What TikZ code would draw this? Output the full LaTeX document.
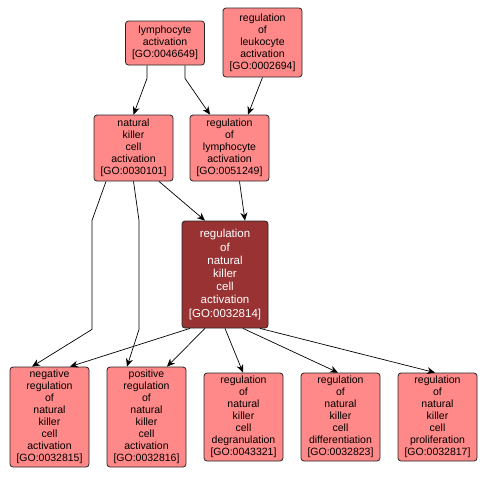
\documentclass[tikz,border=0pt]{standalone}
\usepackage{fontspec}
\setmainfont{Liberation Sans}
\usepackage{xcolor}
\usetikzlibrary{positioning,calc,arrows.meta}

\definecolor{golight}{RGB}{255,136,136}
\definecolor{godark}{RGB}{153,51,51}

\begin{document}
\begin{tikzpicture}[x=1pt, y=-1pt,
  term/.style={draw=black!85, fill=golight, rounded corners=3pt, inner sep=0pt,
    align=center, font=\fontsize{10.5}{12}\selectfont, line width=0.8pt},
  focus/.style={term, fill=godark, text=white, font=\fontsize{11.5}{13.2}\selectfont},
  isa/.style={line width=0.7pt, -{Stealth[length=8pt, width=7pt]}}]
  \useasboundingbox (0,0) rectangle (486,480);

  % Top row
  \node[term, minimum width=79pt, minimum height=44pt] (lymact) at (165,43)
    {lymphocyte\\activation\\{}[GO:0046649]};
  \node[term, minimum width=79pt, minimum height=69pt] (regleuk) at (262.5,42.5)
    {regulation\\of\\leukocyte\\activation\\{}[GO:0002694]};

  % Second row
  \node[term, minimum width=79pt, minimum height=66pt] (nkact) at (133.5,148)
    {natural\\killer\\cell\\activation\\{}[GO:0030101]};
  \node[term, minimum width=79pt, minimum height=66pt] (reglym) at (229.5,148)
    {regulation\\of\\lymphocyte\\activation\\{}[GO:0051249]};

  % Focus term
  \node[focus, minimum width=86pt, minimum height=107pt] (regnk) at (225,274.5)
    {regulation\\of\\natural\\killer\\cell\\activation\\{}[GO:0032814]};

  % Bottom row
  \node[term, minimum width=79pt, minimum height=100pt] (negnk) at (49.5,417)
    {negative\\regulation\\of\\natural\\killer\\cell\\activation\\{}[GO:0032815]};
  \node[term, minimum width=79pt, minimum height=100pt] (posnk) at (146.5,417)
    {positive\\regulation\\of\\natural\\killer\\cell\\activation\\{}[GO:0032816]};
  \node[term, minimum width=79pt, minimum height=88pt] (degran) at (243.5,417)
    {regulation\\of\\natural\\killer\\cell\\degranulation\\{}[GO:0043321]};
  \node[term, minimum width=79pt, minimum height=88pt] (diff) at (340.5,417)
    {regulation\\of\\natural\\killer\\cell\\differentiation\\{}[GO:0032823]};
  \node[term, minimum width=79pt, minimum height=88pt] (prolif) at (437.5,417)
    {regulation\\of\\natural\\killer\\cell\\proliferation\\{}[GO:0032817]};

  % Edges into second row
  \draw[isa] ([xshift=-18pt]lymact.south) -- ++(0,13) -- (nkact.north);
  \draw[isa] ([xshift=20pt]lymact.south) -- ++(0,13) -- ([xshift=-19.5pt]reglym.north);
  \draw[isa] (regleuk.south) -- ([xshift=18.5pt]reglym.north);

  % Edges into focus term
  \draw[isa] ([xshift=25.5pt]nkact.south) -- ([xshift=-20pt]regnk.north);
  \draw[isa] ([xshift=10pt]reglym.south) -- ([xshift=20pt]regnk.north);

  % Long edges from natural killer cell activation
  \draw[isa] ([xshift=-27.5pt]nkact.south) -- ++(-14,39) -- ++(0,109)
    -- ([xshift=-17.5pt]negnk.north);
  \draw[isa] (nkact.south) -- ++(5.5,39) -- ++(0,109)
    -- ([xshift=-19.5pt]posnk.north);

  % Edges out of focus term
  \draw[isa] ([xshift=-35pt]regnk.south) -- ([xshift=20.5pt]negnk.north);
  \draw[isa] ([xshift=-20pt]regnk.south) -- ([xshift=20.5pt]posnk.north);
  \draw[isa] (regnk.south) -- ([xshift=-0.5pt]degran.north);
  \draw[isa] ([xshift=18pt]regnk.south) -- ([xshift=-2.5pt]diff.north);
  \draw[isa] ([xshift=35pt]regnk.south) -- ([xshift=-2.5pt]prolif.north);
\end{tikzpicture}
\end{document}
